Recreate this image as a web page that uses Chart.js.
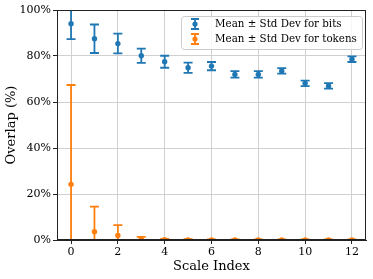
<!DOCTYPE html>
<html>
<head>
<meta charset="utf-8">
<script src="https://cdn.jsdelivr.net/npm/chart.js@4/dist/chart.umd.min.js"></script>
<style>
html,body{margin:0;padding:0;background:#fff;}
#wrap{width:373px;height:279px;position:relative;}
</style>
</head>
<body>
<div id="wrap"><canvas id="c" width="373" height="279"></canvas></div>
<script>
const scaleIndex = [0,1,2,3,4,5,6,7,8,9,10,11,12];
const bitsMean = [94.0, 87.5, 85.4, 80.1, 77.5, 74.9, 75.6, 72.0, 72.0, 73.5, 68.1, 67.0, 78.6];
const bitsStd  = [6.7, 6.2, 4.3, 3.1, 2.6, 2.2, 1.8, 1.4, 1.4, 1.2, 1.2, 1.2, 1.2];
const tokMean  = [24.2, 3.6, 2.0, 0.4, 0.1, 0.05, 0.05, 0.05, 0.05, 0.05, 0.05, 0.05, 0.05];
const tokStd   = [43.2, 10.9, 4.5, 1.0, 0.4, 0.3, 0.2, 0.2, 0.2, 0.2, 0.2, 0.2, 0.2];
const yTicks = [0,20,40,60,80,100];
const xTicks = [0,2,4,6,8,10,12];
const labels = ['Mean \u00b1 Std Dev for bits','Mean \u00b1 Std Dev for tokens'];
const colors = ['#1f77b4','#ff7f0e'];
const FONT = "'DejaVu Serif', serif";

const series = [
  {mean: bitsMean, std: bitsStd},
  {mean: tokMean, std: tokStd}
];

const errorBars = {
  id: 'errorBars',
  beforeDatasetsDraw(chart) {
    const ctx = chart.ctx, xs = chart.scales.x, ys = chart.scales.y, a = chart.chartArea;
    ctx.save();
    ctx.beginPath();
    ctx.rect(a.left, a.top, a.right - a.left, a.bottom - a.top);
    ctx.clip();
    series.forEach((s, di) => {
      ctx.strokeStyle = colors[di];
      ctx.lineWidth = 1.8;
      scaleIndex.forEach((xv, i) => {
        const x = xs.getPixelForValue(xv);
        const yt = ys.getPixelForValue(s.mean[i] + s.std[i]);
        const yb = ys.getPixelForValue(s.mean[i] - s.std[i]);
        ctx.beginPath();
        ctx.moveTo(x, yt); ctx.lineTo(x, yb);
        ctx.moveTo(x - 4.5, yt); ctx.lineTo(x + 4.5, yt);
        ctx.moveTo(x - 4.5, yb); ctx.lineTo(x + 4.5, yb);
        ctx.stroke();
      });
    });
    ctx.restore();
  },
  afterDraw(chart) {
    const ctx = chart.ctx, a = chart.chartArea;
    ctx.save();
    ctx.strokeStyle = '#222';
    ctx.lineWidth = 1;
    ctx.strokeRect(a.left + 0.5, a.top + 0.5, a.right - a.left - 1, a.bottom - a.top - 1);
    const bx = 181, by = 16, bw = 181, bh = 33;
    ctx.fillStyle = 'rgba(255,255,255,0.8)';
    ctx.strokeStyle = '#cccccc';
    ctx.lineWidth = 1;
    ctx.beginPath();
    if (ctx.roundRect) ctx.roundRect(bx + 0.5, by + 0.5, bw, bh, 3); else ctx.rect(bx + 0.5, by + 0.5, bw, bh);
    ctx.fill(); ctx.stroke();
    labels.forEach((t, i) => {
      const cy = by + 8 + i * 15;
      const cx = 195;
      ctx.strokeStyle = colors[i];
      ctx.fillStyle = colors[i];
      ctx.lineWidth = 1.8;
      ctx.beginPath();
      ctx.moveTo(cx, cy - 5); ctx.lineTo(cx, cy + 5);
      ctx.moveTo(cx - 4, cy - 5); ctx.lineTo(cx + 4, cy - 5);
      ctx.moveTo(cx - 4, cy + 5); ctx.lineTo(cx + 4, cy + 5);
      ctx.stroke();
      ctx.beginPath(); ctx.arc(cx, cy, 2.6, 0, Math.PI * 2); ctx.fill();
      ctx.fillStyle = '#000';
      ctx.font = '10.3px ' + FONT;
      ctx.textBaseline = 'middle';
      ctx.textAlign = 'left';
      ctx.fillText(t, 215, cy + 0.5);
    });
    ctx.restore();
  }
};

new Chart(document.getElementById('c'), {
  type: 'scatter',
  data: {
    datasets: series.map((s, di) => ({
      label: labels[di],
      data: scaleIndex.map((x, i) => ({x: x, y: s.mean[i]})),
      backgroundColor: colors[di],
      borderColor: colors[di],
      pointRadius: 2.7,
      pointHoverRadius: 2.7,
      borderWidth: 0
    }))
  },
  options: {
    responsive: false,
    animation: false,
    events: [],
    layout: {padding: {top: 10, right: 7, left: 0, bottom: 0}},
    plugins: {legend: {display: false}, tooltip: {enabled: false}},
    scales: {
      x: {
        type: 'linear', min: -0.6, max: 12.6,
        afterFit(s) { s.height = 39; },
        afterBuildTicks(s) { s.ticks = xTicks.map(v => ({value: v})); },
        grid: {color: '#d0d0d0', lineWidth: 1, tickColor: '#222', tickLength: 4, drawTicks: true},
        border: {color: '#222', width: 1},
        ticks: {font: {family: FONT, size: 11}, color: '#000', padding: 2, maxRotation: 0,
          callback: v => String(v)},
        title: {display: true, text: 'Scale Index', font: {family: FONT, size: 13}, color: '#000',
          padding: {top: 0, bottom: 5}}
      },
      y: {
        type: 'linear', min: 0, max: 100,
        afterFit(s) { s.width = 57; },
        afterBuildTicks(s) { s.ticks = yTicks.map(v => ({value: v})); },
        grid: {color: '#d0d0d0', lineWidth: 1, tickColor: '#222', tickLength: 4, drawTicks: true},
        border: {color: '#222', width: 1},
        ticks: {font: {family: FONT, size: 11}, color: '#000', padding: 2,
          callback: v => v + '%'},
        title: {display: true, text: 'Overlap (%)', font: {family: FONT, size: 13}, color: '#000',
          padding: {top: 4, bottom: 0}}
      }
    }
  },
  plugins: [errorBars]
});
</script>
</body>
</html>
